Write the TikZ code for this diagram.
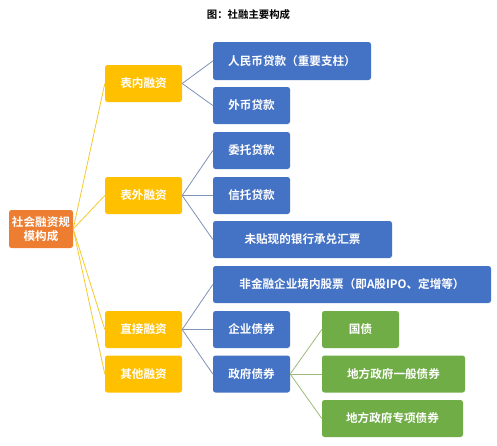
\documentclass[tikz,border=0pt]{standalone}
\usepackage{fontspec}
\setmainfont{Noto Sans CJK SC}[BoldFont={Noto Sans CJK SC Bold}]
\definecolor{rootc}{HTML}{ED7D31}
\definecolor{yelc}{HTML}{FFC000}
\definecolor{bluec}{HTML}{4472C4}
\definecolor{grnc}{HTML}{70AD47}
\definecolor{bluelink}{HTML}{7F93B8}
\definecolor{yellink}{HTML}{F5C92E}
\definecolor{grnlink}{HTML}{9DBB7A}
\tikzset{
  box/.style={rounded corners=2.5pt, draw=none, text=white, font=\bfseries\fontsize{11.6}{14.5}\selectfont, inner sep=0pt, align=center},
  rootbox/.style={box, fill=rootc, minimum width=64pt, minimum height=38pt},
  yelbox/.style={box, fill=yelc, minimum width=77pt, minimum height=37pt},
  bluebox/.style={box, fill=bluec, minimum height=37pt},
  grnbox/.style={box, fill=grnc, minimum height=37pt},
  ylink/.style={draw=yellink, line width=0.8pt},
  blink/.style={draw=bluelink, line width=0.8pt},
  glink/.style={draw=grnlink, line width=0.8pt},
}
\begin{document}
\begin{tikzpicture}[x=1pt,y=-1pt]
\useasboundingbox (0,0) rectangle (497,445);
\fill[white] (0,0) rectangle (497,445);
\node[font=\bfseries\fontsize{10.4}{12}\selectfont] (title) at (248.5,15) {图：社融主要构成};
% root
\node[rootbox] (root) at (41,229) {社会融资规\\模构成};
% yellow
\node[yelbox] (bn) at (143.5,83.5) {表内融资};
\node[yelbox] (bw) at (143.5,195.5) {表外融资};
\node[yelbox] (zj) at (143.5,329.5) {直接融资};
\node[yelbox] (qt) at (143.5,374) {其他融资};
% blue
\node[bluebox, minimum width=158pt, minimum height=38pt] (rmb) at (292,61) {人民币贷款（重要支柱）};
\node[bluebox, minimum width=77pt] (wb) at (251.5,105.5) {外币贷款};
\node[bluebox, minimum width=77pt] (wt) at (251.5,150.5) {委托贷款};
\node[bluebox, minimum width=77pt] (xt) at (251.5,195.5) {信托贷款};
\node[bluebox, minimum width=179pt] (wtx) at (302.5,239.5) {未贴现的银行承兑汇票};
\node[bluebox, minimum width=278pt] (gp) at (352,284.5) {非金融企业境内股票（即A股IPO、定增等）};
\node[bluebox, minimum width=77pt] (qz) at (251.5,329.5) {企业债券};
\node[bluebox, minimum width=77pt] (zz) at (251.5,374) {政府债券};
% green
\node[grnbox, minimum width=77pt] (gz) at (360.5,329.5) {国债};
\node[grnbox, minimum width=143pt] (yb) at (393.5,374) {地方政府一般债券};
\node[grnbox, minimum width=141pt] (zx) at (392.5,418.5) {地方政府专项债券};
% links
\foreach \t in {bn,bw,zj,qt} \draw[ylink] (root.east) -- (\t.west);
\foreach \t in {rmb,wb} \draw[blink] (bn.east) -- (\t.west);
\foreach \t in {wt,xt,wtx} \draw[blink] (bw.east) -- (\t.west);
\foreach \t in {gp,qz,zz} \draw[blink] (zj.east) -- (\t.west);
\foreach \t in {gz,yb,zx} \draw[glink] (zz.east) -- (\t.west);
\end{tikzpicture}
\end{document}
